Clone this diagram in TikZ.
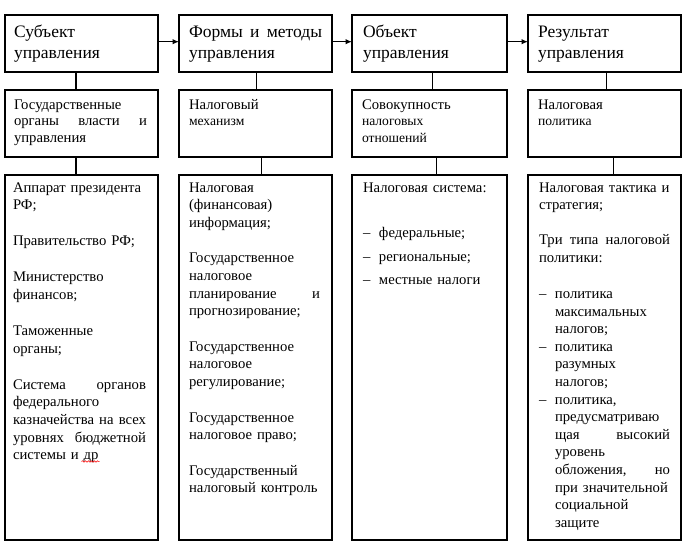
\documentclass[tikz,border=0pt]{standalone}
\usepackage{fontspec}
\setmainfont{Liberation Serif}
\usetikzlibrary{arrows.meta,decorations.pathmorphing}
\newcommand\hdfont{\fontsize{17.5}{21}\selectfont}
\newcommand\bdfont{\fontsize{14.7}{17.6}\selectfont}
\newcommand\rwfont{\fontsize{14.7}{16.5}\selectfont}
\newcommand\smfont{\fontsize{13.6}{16.5}\selectfont}
\newcommand\itm[1]{\makebox[16pt][l]{–}#1}
\newcommand\ind{\hspace*{16pt}}
\begin{document}
\begin{tikzpicture}[x=1pt,y=-1pt,
  box/.style={draw, line width=1.2pt, inner sep=0pt, outer sep=0pt},
  hbox/.style={box, minimum width=153pt, minimum height=57pt},
  mbox/.style={box, minimum width=153pt, minimum height=67pt},
  bbox/.style={box, minimum width=153pt, minimum height=365pt},
  txt/.style={anchor=base west, inner sep=0pt, outer sep=0pt, align=left},
  htxt/.style={txt, font=\hdfont},
  mtxt/.style={txt, font=\rwfont},
  btxt/.style={txt, font=\bdfont},
  link/.style={line width=1.2pt},
  arr/.style={line width=1.2pt, -{Latex[length=6.5pt,width=5.5pt]}},
  squig/.style={red, line width=0.5pt, decorate, decoration={snake, amplitude=0.8pt, segment length=3pt}}
]
\useasboundingbox (0,0) rectangle (691,550);

% boxes
\node[hbox] (h1) at (81.5,43.5) {};
\node[hbox] (h2) at (255.5,43.5) {};
\node[hbox, minimum width=155pt] (h3) at (429.5,43.5) {};
\node[hbox] (h4) at (604.5,43.5) {};
\node[mbox] (m1) at (81.5,123.5) {};
\node[mbox] (m2) at (255.5,123.5) {};
\node[mbox, minimum width=155pt] (m3) at (429.5,123.5) {};
\node[mbox] (m4) at (604.5,123.5) {};
\node[bbox] (b1) at (81.5,357.5) {};
\node[bbox] (b2) at (255.5,357.5) {};
\node[bbox, minimum width=155pt] (b3) at (429.5,357.5) {};
\node[bbox] (b4) at (604.5,357.5) {};

% header texts
\node[htxt, text width=135pt] (th1) at (14,37) {Субъект\\управления};
\node[htxt, text width=133pt] (th2) at (189,37) {Формы \hfill и \hfill методы\\управления};
\node[htxt, text width=135pt] (th3) at (363,37) {Объект\\управления};
\node[htxt, text width=135pt] (th4) at (538,37) {Результат\\управления};

% middle texts
\node[mtxt, text width=133pt] (tm1) at (14,109) {Государственные\\органы \hfill власти \hfill и\\управления};
\node[mtxt, text width=133pt] (tm2) at (189,109) {Налоговый\\{\smfont механизм}};
\node[mtxt, text width=133pt] (tm3) at (362,109) {Совокупность\\{\smfont налоговых}\\{\smfont отношений}};
\node[mtxt, text width=133pt] (tm4) at (538,109) {Налоговая\\{\smfont политика}};

% bottom texts
\node[btxt, text width=133pt] (tb1) at (13,192) {Аппарат президента\\
РФ;\\[18.5pt]
Правительство РФ;\\[18.5pt]
Министерство\\
финансов;\\[18.5pt]
Таможенные\\
органы;\\[18.5pt]
Система \hfill органов\\
федерального\\
казначейства \hfill на \hfill всех\\
уровнях \hfill бюджетной\\
системы и др};

\node[btxt, text width=131pt] (tb2) at (189,192) {Налоговая\\
(финансовая)\\
информация;\\[18pt]
Государственное\\
налоговое\\
планирование \hfill и\\
прогнозирование;\\[18pt]
Государственное\\
налоговое\\
регулирование;\\[18pt]
Государственное\\
налоговое право;\\[18pt]
Государственный\\
налоговый контроль};

\node[btxt, text width=133pt] (tb3) at (363,192) {Налоговая система:\\[28pt]
\itm{федеральные;}\\[6pt]
\itm{региональные;}\\[6pt]
\itm{местные налоги}};

\node[btxt, text width=131pt] (tb4) at (539,192) {Налоговая тактика и\\
стратегия;\\[17.5pt]
Три \hfill типа \hfill налоговой\\
политики:\\[18.5pt]
\itm{политика}\\
\ind максимальных\\
\ind налогов;\\
\itm{политика}\\
\ind разумных\\
\ind налогов;\\
\itm{политика,}\\
\ind предусматриваю\\
\ind щая \hfill высокий\\
\ind уровень\\
\ind обложения, \hfill но\\
\ind при значительной\\
\ind социальной\\
\ind защите};

% arrows between headers
\draw[arr] ([yshift=1.8pt]h1.east) -- ([yshift=1.8pt]h2.west);
\draw[arr] ([yshift=1.8pt]h2.east) -- ([yshift=1.8pt]h3.west);
\draw[arr] ([yshift=1.8pt]h3.east) -- ([yshift=1.8pt]h4.west);

% vertical links
\draw[link] ([xshift=-5.5pt]h1.south) -- ([xshift=-5.5pt]m1.north);
\draw[link] ([xshift=-5.5pt]m1.south) -- ([xshift=-5.5pt]b1.north);
\draw[link] ([xshift=1.2pt]h2.south) -- ([xshift=1.2pt]m2.north);
\draw[link] ([xshift=6.2pt]m2.south) -- ([xshift=6.2pt]b2.north);
\draw[link] ([xshift=2.8pt]h3.south) -- ([xshift=2.8pt]m3.north);
\draw[link] ([xshift=7.2pt]m3.south) -- ([xshift=7.2pt]b3.north);
\draw[link] ([xshift=2.2pt]h4.south) -- ([xshift=2.2pt]m4.north);
\draw[link] ([xshift=8.8pt]m4.south) -- ([xshift=8.8pt]b4.north);

% spell-check squiggle
\draw[squig] (81.5,461.5) -- (99.5,461.5);
\end{tikzpicture}
\end{document}
